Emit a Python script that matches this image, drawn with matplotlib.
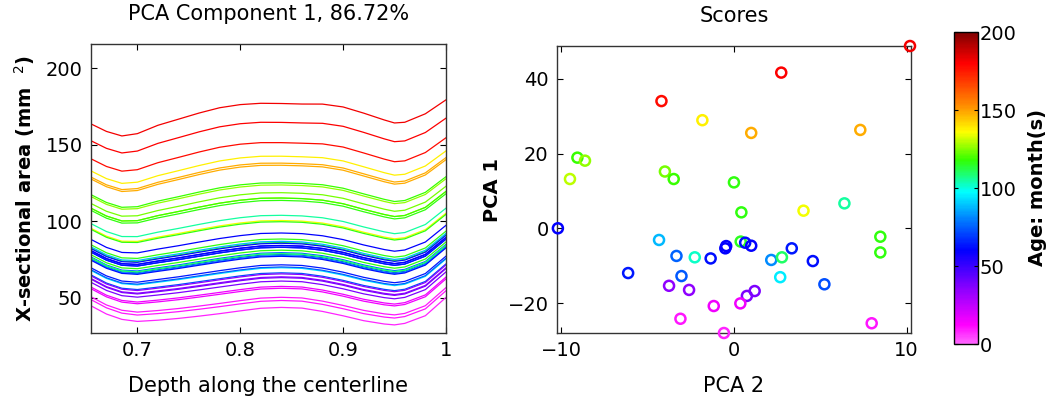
import numpy as np
import matplotlib
matplotlib.use('Agg')
import matplotlib.pyplot as plt
from matplotlib.colors import LinearSegmentedColormap, Normalize
from matplotlib.cm import ScalarMappable

plt.rcParams['font.family'] = ['DejaVu Sans']

# depth samples along the centerline, mean area and first PCA component
depth = [0.655, 0.67, 0.685, 0.70, 0.72, 0.74, 0.76, 0.78, 0.80, 0.82,
         0.84, 0.86, 0.88, 0.90, 0.92, 0.94, 0.95, 0.96, 0.98, 1.0]
mean_area = [88.1, 82.9, 79.6, 79.3, 81.8, 84.0, 86.4, 88.7, 90.6, 92.0,
             92.3, 91.9, 90.5, 88.0, 84.5, 81.5, 80.4, 81.2, 86.4, 97.3]
pc1 = [1.553, 1.559, 1.566, 1.603, 1.664, 1.701, 1.734, 1.758, 1.761, 1.750,
       1.741, 1.742, 1.770, 1.783, 1.772, 1.742, 1.724, 1.717, 1.724, 1.687]

# scores per subject
pca2 = [10.2, 2.74, -4.2, -1.83, 1.0, 7.32, -9.07, -8.63, -9.5, -4.0,
        -3.49, 0.0, 6.4, 4.03, 0.43, 8.48, 8.48, 0.39, 0.65, 1.0,
        -10.2, -0.5, -0.45, -1.35, -4.34, -3.33, -2.27, 2.16, 2.78, 3.35,
        4.57, 2.68, 5.24, -6.13, -3.04, -3.76, -2.6, 1.2, 0.75, 0.37,
        -1.17, -3.1, -0.58, 7.98]
pca1 = [48.7, 41.6, 34.0, 28.9, 25.5, 26.3, 18.9, 18.1, 13.2, 15.2,
        13.2, 12.3, 6.7, 4.75, 4.3, -2.2, -6.4, -3.5, -3.8, -4.6,
        0.05, -5.3, -4.7, -8.0, -3.07, -7.33, -7.7, -8.4, -7.7, -5.3,
        -8.7, -13.0, -14.9, -11.9, -12.7, -15.3, -16.4, -16.7, -18.0, -20.0,
        -20.7, -24.1, -27.9, -25.3]
age = [182, 180, 178, 138, 148, 148, 118, 126, 130, 124,
       118, 117, 105, 135, 117, 117, 117, 115, 62, 60,
       60, 60, 60, 62, 88, 75, 102, 82, 110, 64,
       62, 95, 72, 64, 74, 35, 35, 38, 38, 15,
       15, 10, 8, 10]

cmap = LinearSegmentedColormap.from_list('age', [
    (0.00, (1.0, 0.4, 1.0)),
    (0.06, (1.0, 0.0, 1.0)),
    (0.175, (0.55, 0.0, 1.0)),
    (0.30, (0.0, 0.0, 1.0)),
    (0.40, (0.0, 0.5, 1.0)),
    (0.487, (0.0, 1.0, 1.0)),
    (0.59, (0.2, 1.0, 0.0)),
    (0.68, (1.0, 1.0, 0.0)),
    (0.765, (1.0, 0.55, 0.0)),
    (0.90, (1.0, 0.0, 0.0)),
    (1.00, (0.5, 0.0, 0.0))])
norm = Normalize(0, 200)

fs_title = 15
fs_tick = 14
fs_bold = 14
fig = plt.figure(figsize=(10.5, 4), dpi=100)

# left: reconstructed curves
ax1 = fig.add_axes([0.0867, 0.1675, 0.338, 0.7225])
d = np.array(depth)
for s, a in zip(pca1, age):
    ax1.plot(d, np.array(mean_area) + s*np.array(pc1), '-', color=cmap(norm(a)), lw=0.9)
ax1.set_xlim(0.655, 1.0)
ax1.set_ylim(27, 216)
ax1.set_xticks([0.7, 0.8, 0.9, 1.0])
ax1.set_xticklabels(['0.7', '0.8', '0.9', '1'])
ax1.set_yticks([50, 100, 150, 200])
ax1.set_title('PCA Component 1, 86.72%', fontsize=fs_title, pad=17)
ax1.set_xlabel('Depth along the centerline', fontsize=fs_title, labelpad=11)
ax1.set_ylabel(r'X-sectional area (mm  $^{2}$)', fontsize=fs_bold, fontweight='bold', labelpad=6)

# right: scores
ax2 = fig.add_axes([0.5305, 0.1675, 0.337, 0.7175])
ax2.scatter(pca2, pca1, s=52, facecolors='none', edgecolors=[cmap(norm(a)) for a in age],
            linewidths=1.8, clip_on=False, zorder=3)
ax2.set_xlim(-10.25, 10.25)
ax2.set_ylim(-27.9, 48.7)
ax2.set_xticks([-10, 0, 10])
ax2.set_yticks([-20, 0, 20, 40])
ax2.set_title('Scores', fontsize=fs_title, pad=17)
ax2.set_xlabel('PCA 2', fontsize=fs_title, labelpad=11)
ax2.set_ylabel('PCA 1', fontsize=fs_bold, fontweight='bold', labelpad=4)

for ax in (ax1, ax2):
    ax.tick_params(direction='in', top=True, right=True, length=4, labelsize=fs_tick, pad=6)
    for sp in ax.spines.values():
        sp.set_color('#333333')
        sp.set_linewidth(1.0)

# colorbar
cax = fig.add_axes([0.909, 0.14, 0.0229, 0.78])
cb = fig.colorbar(ScalarMappable(norm=norm, cmap=cmap), cax=cax)
cb.set_ticks([0, 50, 100, 150, 200])
cb.ax.tick_params(direction='in', length=3, labelsize=fs_tick, pad=1, left=True)
cb.outline.set_linewidth(1.0)
cb.set_label('Age: month(s)', fontsize=fs_bold, fontweight='bold', labelpad=8)

plt.savefig('out.png', dpi=100)
